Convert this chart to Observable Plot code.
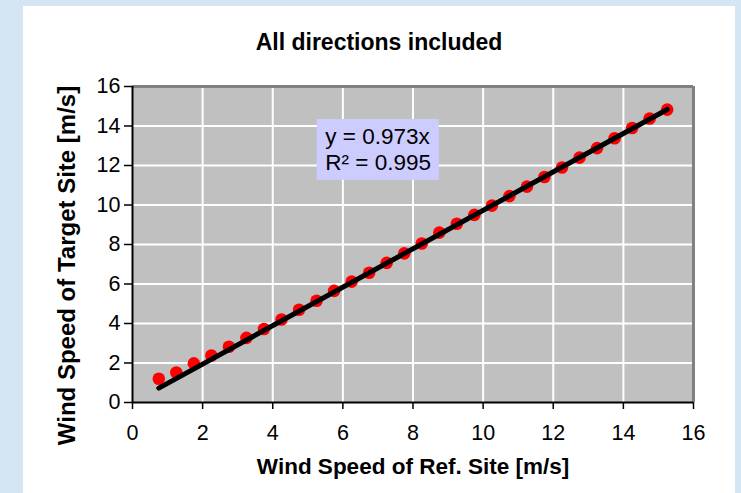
<!DOCTYPE html>
<html>
<head>
<meta charset="utf-8">
<script src="https://cdn.jsdelivr.net/npm/d3@7"></script>
<script src="https://cdn.jsdelivr.net/npm/@observablehq/plot@0.6"></script>
<style>
  body { margin: 0; background: #d5e5f4; width: 741px; height: 493px; overflow: hidden; position: relative; }
  #panel { position: absolute; left: 23px; top: 6px; width: 712px; height: 487px; background: #ffffff; }
  #chart { position: absolute; left: 0; top: 0; }
</style>
</head>
<body>
<div id="panel"></div>
<div id="chart"></div>
<script>
const title = "All directions included";
const xLabel = "Wind Speed of Ref. Site [m/s]";
const yLabel = "Wind Speed of Target Site [m/s]";
const refSpeed = [0.75, 1.25, 1.75, 2.25, 2.75, 3.25, 3.75, 4.25, 4.75, 5.25, 5.75, 6.25, 6.75, 7.25, 7.75,
                  8.25, 8.75, 9.25, 9.75, 10.25, 10.75, 11.25, 11.75, 12.25, 12.75, 13.25, 13.75, 14.25, 14.75, 15.25];
const targetSpeed = [1.2, 1.52, 1.98, 2.38, 2.82, 3.27, 3.72, 4.2, 4.7, 5.15, 5.65, 6.12, 6.57, 7.07, 7.55,
                     8.05, 8.6, 9.05, 9.5, 9.97, 10.45, 10.93, 11.42, 11.9, 12.4, 12.88, 13.38, 13.9, 14.38, 14.83];
const slope = 0.973;
const equationLines = ["y = 0.973x", "R\u00b2 = 0.995"];
const ticks = [0, 2, 4, 6, 8, 10, 12, 14, 16];
const gridTicks = [2, 4, 6, 8, 10, 12, 14];
const annotationBox = [{x1: 5.27, x2: 8.75, y1: 11.25, y2: 14.33}];
const annotationText = [{x: 5.5, y: 13.46, t: equationLines[0]}, {x: 5.5, y: 12.14, t: equationLines[1]}];

const points = refSpeed.map((x, i) => ({x, y: targetSpeed[i]}));
const xs = [refSpeed[0], refSpeed[refSpeed.length - 1]];
const trend = xs.map(x => ({x, y: slope * x}));

const font = "'Liberation Sans', Arial, sans-serif";

const chart = Plot.plot({
  width: 741,
  height: 493,
  marginLeft: 132,
  marginRight: 48,
  marginTop: 86,
  marginBottom: 91,
  style: {background: "transparent", fontFamily: font, color: "#000"},
  x: {domain: [0, 16], label: null},
  y: {domain: [0, 16], label: null},
  marks: [
    Plot.frame({fill: "#c0c0c0", stroke: null}),
    Plot.ruleX(gridTicks, {stroke: "#ffffff", strokeWidth: 2}),
    Plot.ruleY(gridTicks, {stroke: "#ffffff", strokeWidth: 2}),
    Plot.ruleY([16], {stroke: "#808080", strokeWidth: 3}),
    Plot.ruleX([16], {stroke: "#808080", strokeWidth: 3}),
    Plot.ruleX([0], {stroke: "#000", strokeWidth: 2}),
    Plot.ruleY([0], {stroke: "#000", strokeWidth: 2}),
    Plot.rect(annotationBox, {x1: "x1", x2: "x2", y1: "y1", y2: "y2", fill: "#ccccff"}),
    Plot.text(annotationText, {x: "x", y: "y", text: "t", textAnchor: "start", fontSize: 22.5, fill: "#000"}),
    Plot.dot(points, {x: "x", y: "y", r: 6.3, fill: "#ff0000", stroke: null}),
    Plot.line(trend, {x: "x", y: "y", stroke: "#000", strokeWidth: 5}),
    Plot.axisX(ticks, {tickSize: 7, tickPadding: 15, fontSize: 21.5, stroke: "#000", strokeWidth: 1.5, tickFormat: d => d}),
    Plot.axisY(ticks, {tickSize: 8, tickPadding: 4, fontSize: 21.5, stroke: "#000", strokeWidth: 1.5, tickFormat: d => d}),
    Plot.text([title], {frameAnchor: "top", lineAnchor: "middle", textAnchor: "middle", dy: -44, dx: -34, fontSize: 23, fontWeight: "bold", fill: "#000"}),
    Plot.text([xLabel], {frameAnchor: "bottom", lineAnchor: "middle", textAnchor: "middle", dy: 64, fontSize: 22.5, fontWeight: "bold", fill: "#000"}),
    Plot.text([yLabel], {frameAnchor: "left", lineAnchor: "middle", textAnchor: "middle", rotate: -90, dx: -65, dy: 21, fontSize: 24, fontWeight: "bold", fill: "#000"})
  ]
});
document.getElementById("chart").appendChild(chart);
</script>
</body>
</html>
